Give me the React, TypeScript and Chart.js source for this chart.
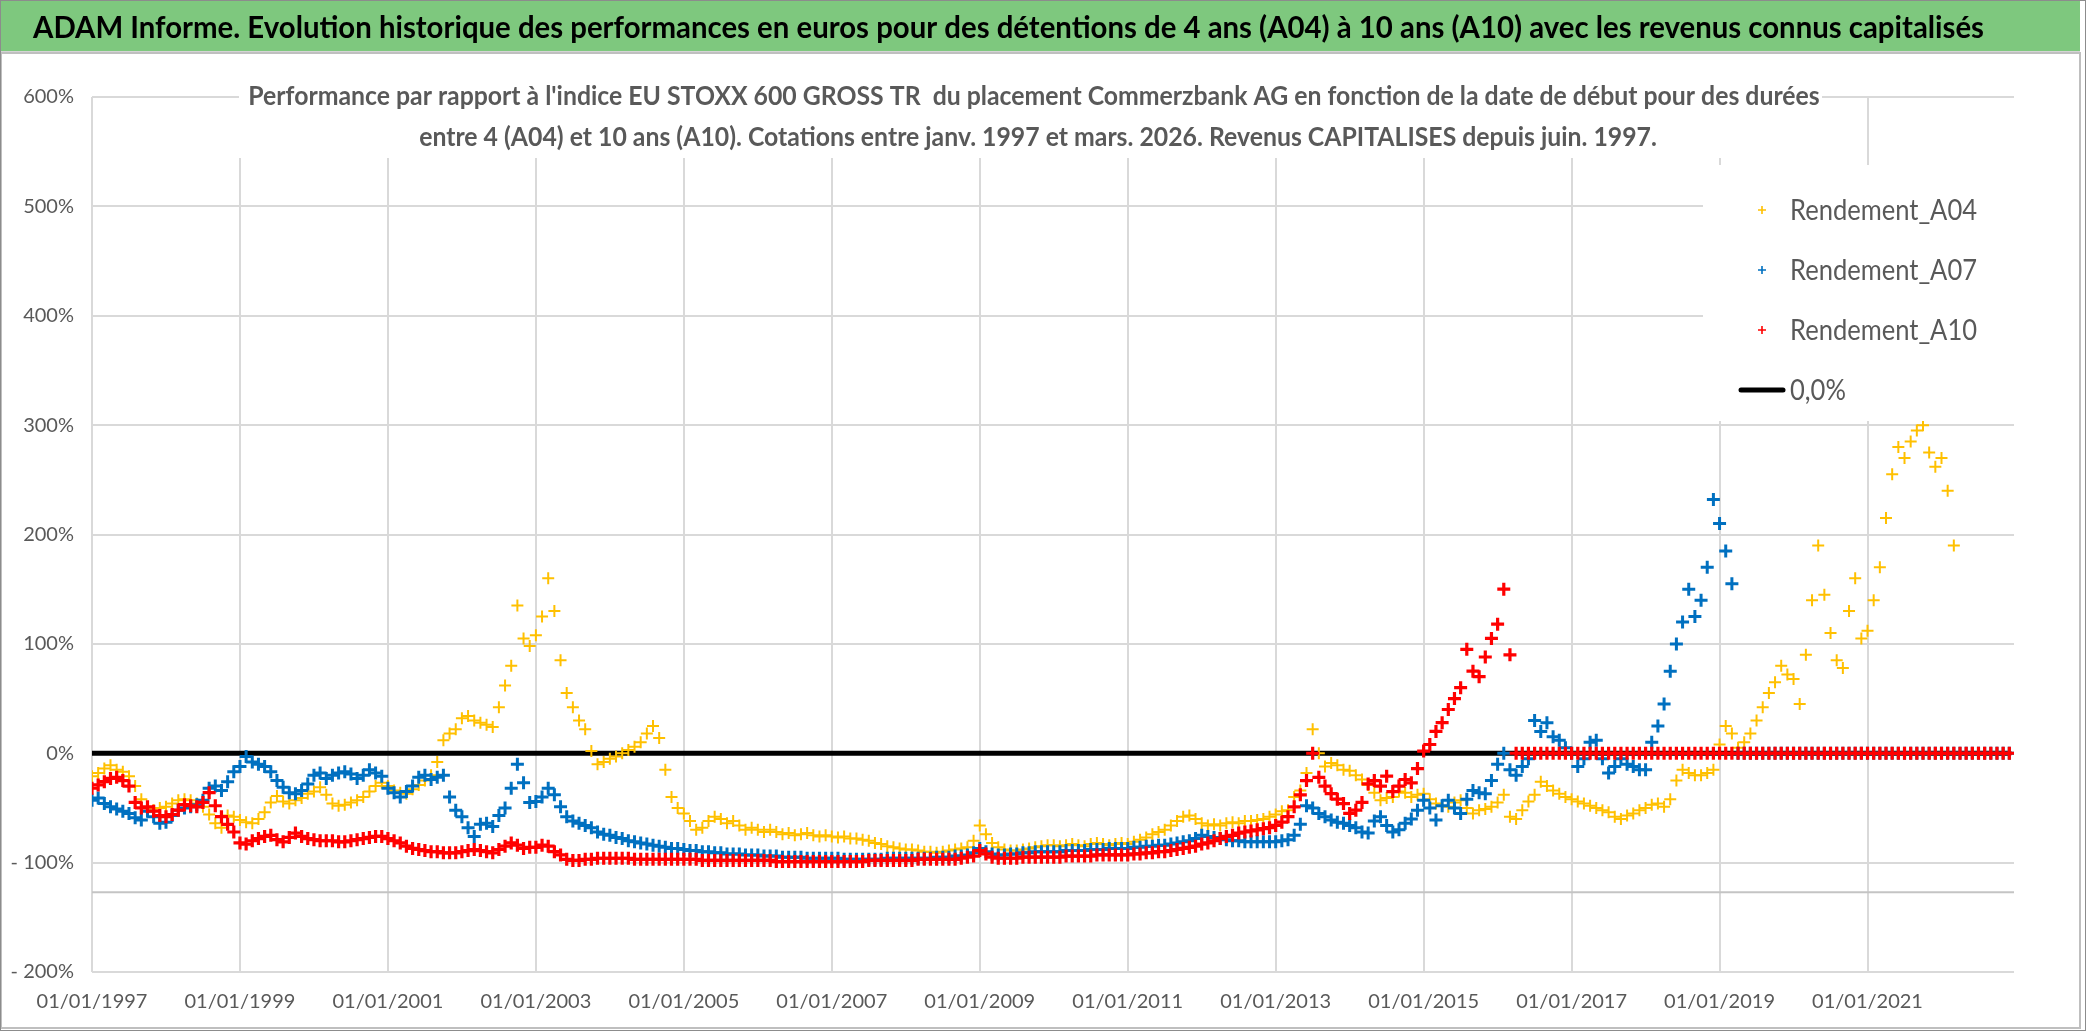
import React, { useEffect, useRef } from "react";
import { Chart, registerables } from "chart.js";

Chart.register(...registerables);

// ---------- texts ----------
const TITLE =
  "ADAM Informe. Evolution historique des performances en euros pour des détentions de 4 ans (A04) à 10 ans (A10) avec les revenus connus capitalisés";
const SUBTITLE_LINES = [
  "Performance par rapport à l'indice EU STOXX 600 GROSS TR  du placement Commerzbank AG en fonction de la date de début pour des durées",
  "entre 4 (A04) et 10 ans (A10). Cotations entre janv. 1997 et mars. 2026. Revenus CAPITALISES depuis juin. 1997.",
];
const SERIES_LABELS = ["Rendement_A04", "Rendement_A07", "Rendement_A10"];
const ZERO_LABEL = "0,0%";
const SERIES_COLORS = ["#FFC000", "#0070C0", "#FF0000"];

// ---------- axes ----------
const FIRST_MONTH = 1997; // first start date: January 1997, one value per month
const X_MIN = 1997;
const X_MAX = 2022.98;
const X_TICKS = [1997, 1999, 2001, 2003, 2005, 2007, 2009, 2011, 2013, 2015, 2017, 2019, 2021];
const Y_MIN = -200;
const Y_MAX = 600;
const Y_STEP = 100;
const AXIS_CROSS = -127;
const ZERO_X = [1997, 2022.92];
const ZERO_Y = [0, 0];

// ---------- series (monthly, in %) ----------
const A04 = [
  -21, -18, -14, -11, -15, -17, -21, -30, -42, -50, -52, -50,
  -49, -46, -43, -42, -43, -46, -49, -56, -64, -68, -57, -58,
  -61, -63, -64, -60, -54, -45, -39, -44, -46, -43, -41, -37,
  -35, -31, -38, -46, -48, -47, -45, -43, -40, -35, -30, -27,
  -30, -34, -36, -37, -33, -29, -25, -20, -8, 12, 18, 22,
  32, 34, 30, 28, 26, 24, 42, 62, 80, 135, 105, 98,
  108, 125, 160, 130, 85, 55, 42, 30, 22, 2, -10, -8,
  -5, -3, 0, 3, 6, 10, 18, 25, 14, -15, -40, -50,
  -55, -62, -70, -68, -62, -58, -60, -64, -62, -66, -70, -68,
  -70, -72, -70, -72, -74, -73, -75, -74, -73, -75, -76, -75,
  -76, -77, -76, -78, -78, -79, -80, -82, -83, -85, -86, -87,
  -88, -88, -89, -90, -90, -91, -90, -89, -88, -87, -86, -80,
  -66, -74, -82, -86, -88, -89, -89, -88, -87, -86, -85, -84,
  -84, -85, -84, -83, -84, -85, -83, -82, -83, -84, -83, -82,
  -83, -81, -79, -77, -74, -72, -70, -66, -62, -58, -57, -60,
  -64, -66, -65, -66, -64, -63, -64, -62, -62, -61, -60, -58,
  -56, -53, -52, -40, -34, -18, 22, 0, -12, -9, -11, -15,
  -16, -20, -24, -29, -36, -43, -41, -40, -35, -36, -40, -38,
  -37, -42, -46, -48, -49, -45, -43, -50, -55, -52, -51, -49,
  -45, -38, -58, -60, -52, -44, -38, -26, -30, -34, -37, -40,
  -42, -44, -46, -48, -50, -52, -54, -58, -60, -57, -55, -52,
  -50, -47, -46, -49, -42, -25, -15, -18, -20, -20, -18, -15,
  8, 25, 18, 5, 10, 18, 30, 42, 55, 65, 80, 72,
  68, 45, 90, 140, 190, 145, 110, 85, 78, 130, 160, 105,
  112, 140, 170, 215, 255, 280, 270, 285, 295, 300, 275, 262,
  270, 240, 190, 0, 0, 0, 0, 0, 0, 0, 0, 0,
];

const A07 = [
  -43, -41, -46, -49, -51, -53, -55, -59, -61, -53, -58, -64,
  -63, -57, -52, -50, -49, -47, -43, -32, -30, -34, -26, -17,
  -12, -3, -8, -10, -12, -17, -25, -31, -36, -37, -34, -28,
  -20, -18, -23, -20, -18, -17, -19, -23, -20, -15, -18, -21,
  -32, -36, -40, -35, -30, -22, -20, -24, -22, -20, -40, -52,
  -58, -68, -76, -65, -64, -67, -57, -50, -32, -10, -27, -45,
  -44, -40, -32, -38, -49, -58, -62, -64, -66, -68, -72, -74,
  -75, -77, -78, -80, -81, -82, -83, -84, -85, -86, -87, -87,
  -88, -89, -89, -90, -90, -91, -91, -92, -92, -92, -93, -93,
  -93, -94, -94, -94, -95, -95, -95, -95, -96, -96, -96, -96,
  -96, -96, -97, -97, -97, -97, -97, -97, -97, -96, -96, -96,
  -96, -96, -96, -96, -96, -95, -95, -95, -94, -94, -93, -91,
  -87, -90, -92, -93, -93, -92, -92, -91, -91, -90, -90, -90,
  -90, -90, -89, -89, -89, -89, -88, -88, -88, -87, -87, -87,
  -87, -86, -86, -85, -85, -84, -84, -83, -82, -81, -80, -78,
  -75, -76, -77, -78, -79, -80, -80, -81, -81, -81, -81, -81,
  -81, -80, -79, -75, -65, -48, -50, -55, -58, -61, -63, -64,
  -66, -68, -72, -73, -62, -58, -66, -72, -70, -64, -60, -52,
  -43, -50, -61, -48, -43, -50, -55, -42, -34, -36, -37, -25,
  -10, 0, -15, -20, -12, -5, 30, 20, 28, 15, 12, 5,
  0, -12, -5, 10, 12, -5, -18, -12, -5, -10, -12, -15,
  -15, 10, 25, 45, 75, 100, 120, 150, 125, 140, 170, 232,
  210, 185, 155, 0, 0, 0, 0, 0, 0, 0, 0, 0,
  0, 0, 0, 0, 0, 0, 0, 0, 0, 0, 0, 0,
  0, 0, 0, 0, 0, 0, 0, 0, 0, 0, 0, 0,
  0, 0, 0, 0, 0, 0, 0, 0, 0, 0, 0, 0,
];

const A10 = [
  -32, -29, -26, -23, -22, -25, -30, -45, -50, -49, -53, -57,
  -58, -56, -52, -47, -48, -49, -45, -36, -48, -58, -65, -72,
  -82, -83, -80, -78, -76, -75, -79, -81, -77, -73, -76, -78,
  -79, -80, -80, -80, -81, -81, -80, -79, -78, -77, -76, -76,
  -78, -80, -82, -85, -87, -88, -89, -90, -90, -91, -91, -91,
  -90, -89, -88, -89, -90, -91, -88, -85, -82, -84, -87, -86,
  -86, -84, -85, -90, -93, -97, -98, -98, -97, -97, -96, -96,
  -96, -96, -96, -96, -97, -97, -97, -97, -97, -97, -97, -97,
  -97, -97, -97, -98, -98, -98, -98, -98, -98, -98, -98, -98,
  -98, -98, -98, -99, -99, -99, -99, -99, -99, -99, -99, -99,
  -99, -99, -99, -99, -99, -99, -98, -98, -98, -98, -98, -98,
  -98, -98, -97, -97, -97, -97, -97, -97, -97, -96, -95, -94,
  -89, -92, -95, -96, -96, -96, -96, -95, -95, -95, -95, -95,
  -95, -95, -94, -94, -94, -94, -94, -93, -93, -93, -93, -93,
  -93, -92, -92, -91, -91, -90, -90, -89, -88, -87, -86, -85,
  -83, -82, -80, -78, -76, -75, -73, -72, -71, -70, -69, -68,
  -66, -63, -58, -49, -38, -25, 0, -22, -30, -37, -42, -46,
  -55, -52, -45, -28, -25, -30, -21, -35, -30, -24, -27, -14,
  2, 8, 20, 28, 40, 50, 60, 95, 75, 70, 88, 105,
  118, 150, 90, 0, 0, 0, 0, 0, 0, 0, 0, 0,
  0, 0, 0, 0, 0, 0, 0, 0, 0, 0, 0, 0,
  0, 0, 0, 0, 0, 0, 0, 0, 0, 0, 0, 0,
  0, 0, 0, 0, 0, 0, 0, 0, 0, 0, 0, 0,
  0, 0, 0, 0, 0, 0, 0, 0, 0, 0, 0, 0,
  0, 0, 0, 0, 0, 0, 0, 0, 0, 0, 0, 0,
  0, 0, 0, 0, 0, 0, 0, 0, 0, 0, 0, 0,
];

// ---------- layout ----------
const PAGE_W = 2086;
const PAGE_H = 1031;
const AREA = { left: 92, top: 97, right: 2014, bottom: 972 };
const FAMILY = "Lato, 'Liberation Sans', sans-serif";
const TEXT_GREY = "#595959";
const GRID = "#d9d9d9";

// draw text horizontally compressed (Calibri-like narrow look)
function drawText(
  ctx: CanvasRenderingContext2D,
  text: string,
  x: number,
  y: number,
  sx: number,
  align: CanvasTextAlign
) {
  ctx.save();
  ctx.translate(x, y);
  ctx.scale(sx, 1);
  ctx.textAlign = align;
  ctx.textBaseline = "middle";
  ctx.fillText(text, 0, 0);
  ctx.restore();
}

export default function App() {
  const ref = useRef<HTMLCanvasElement>(null);

  useEffect(() => {
    document.body.style.margin = "0";
    const canvas = ref.current;
    if (!canvas) return;

    const mctx = document.createElement("canvas").getContext("2d")!;
    const ratio = (text: string, font: string, target: number) => {
      mctx.font = font;
      return target / mctx.measureText(text).width;
    };
    const TITLE_FONT = `bold 31px ${FAMILY}`;
    const SUB_FONT = `bold 26px ${FAMILY}`;
    const LEGEND_FONT = `29px ${FAMILY}`;
    const titleSx = ratio(TITLE, TITLE_FONT, 1951);
    const subSx0 = ratio(SUBTITLE_LINES[0], SUB_FONT, 1571);
    const subSx1 = ratio(SUBTITLE_LINES[1], SUB_FONT, 1238);
    const subSx = (subSx0 + subSx1) / 2;
    const legendSx = ratio("Rendement_A10", LEGEND_FONT, 187);

    const toPoints = (vals: number[]) => vals.map((v, i) => ({ x: FIRST_MONTH + i / 12, y: v }));

    const pagePlugin = {
      id: "page",
      beforeDraw(chart: any) {
        const ctx = chart.ctx as CanvasRenderingContext2D;
        ctx.save();
        ctx.fillStyle = "#ffffff";
        ctx.fillRect(0, 0, PAGE_W, PAGE_H);
        ctx.fillStyle = "#7ec87e";
        ctx.fillRect(0, 0, 2080, 51);
        ctx.fillStyle = "#d4d4d4";
        ctx.fillRect(0, 51, 2080, 2);
        ctx.fillStyle = "#000000";
        ctx.font = TITLE_FONT;
        drawText(ctx, TITLE, 33, 28, titleSx, "left");
        ctx.strokeStyle = "#bfbfbf";
        ctx.lineWidth = 2;
        ctx.strokeRect(1, 53, 2079, 975);
        ctx.strokeStyle = "#8c8c8c";
        ctx.lineWidth = 1;
        ctx.strokeRect(0.5, 0.5, PAGE_W - 1, PAGE_H - 1);
        ctx.restore();
      },
      beforeDatasetsDraw(chart: any) {
        const ctx = chart.ctx as CanvasRenderingContext2D;
        const { chartArea, scales } = chart;
        const y = scales.y.getPixelForValue(AXIS_CROSS);
        ctx.save();
        ctx.strokeStyle = "#c4c4c4";
        ctx.lineWidth = 2;
        ctx.beginPath();
        ctx.moveTo(chartArea.left, y);
        ctx.lineTo(chartArea.right, y);
        ctx.stroke();
        ctx.restore();
      },
      afterDatasetsDraw(chart: any) {
        const ctx = chart.ctx as CanvasRenderingContext2D;
        ctx.save();
        // subtitle box
        ctx.fillStyle = "#ffffff";
        ctx.fillRect(239, 68, 1583, 90);
        ctx.fillStyle = TEXT_GREY;
        ctx.font = SUB_FONT;
        drawText(ctx, SUBTITLE_LINES[0], 1034, 97, subSx, "center");
        drawText(ctx, SUBTITLE_LINES[1], 1038, 138, subSx, "center");

        // legend box
        ctx.fillStyle = "#ffffff";
        ctx.fillRect(1703, 165, 312, 256);
        const rows = [210, 270, 330, 390];
        ctx.font = LEGEND_FONT;
        chart.data.datasets.forEach((ds: any, i: number) => {
          const y = rows[i];
          if (ds.type === "line") {
            ctx.strokeStyle = ds.borderColor;
            ctx.lineWidth = 5;
            ctx.lineCap = "round";
            ctx.beginPath();
            ctx.moveTo(1741, y);
            ctx.lineTo(1783, y);
            ctx.stroke();
          } else {
            ctx.strokeStyle = ds.pointBorderColor;
            ctx.lineWidth = 1.6;
            ctx.lineCap = "butt";
            ctx.beginPath();
            ctx.moveTo(1758, y);
            ctx.lineTo(1766, y);
            ctx.moveTo(1762, y - 4);
            ctx.lineTo(1762, y + 4);
            ctx.stroke();
          }
          ctx.fillStyle = TEXT_GREY;
          drawText(ctx, ds.label, 1790, y + 1, legendSx, "left");
        });
        ctx.restore();
      },
    };

    const scatterDs = (
      label: string,
      vals: number[],
      color: string,
      radius: number,
      width: number,
      order: number
    ) => ({
      type: "scatter" as const,
      label,
      data: toPoints(vals),
      pointStyle: "cross" as const,
      pointRadius: radius,
      pointHoverRadius: radius,
      pointBorderWidth: width,
      pointBorderColor: color,
      pointBackgroundColor: color,
      borderColor: color,
      backgroundColor: color,
      showLine: false,
      order,
    });

    const chart = new Chart(canvas, {
      type: "scatter",
      data: {
        datasets: [
          scatterDs(SERIES_LABELS[0], A04, SERIES_COLORS[0], 6, 2, 3),
          scatterDs(SERIES_LABELS[1], A07, SERIES_COLORS[1], 6.5, 3, 2),
          scatterDs(SERIES_LABELS[2], A10, SERIES_COLORS[2], 6.5, 3.2, 1),
          {
            type: "line" as const,
            label: ZERO_LABEL,
            data: ZERO_X.map((x, i) => ({ x, y: ZERO_Y[i] })),
            borderColor: "#000000",
            backgroundColor: "#000000",
            borderWidth: 5,
            borderCapStyle: "round" as const,
            pointRadius: 0,
            order: 4,
          },
        ] as any,
      },
      options: {
        responsive: false,
        animation: false,
        devicePixelRatio: 1,
        events: [],
        layout: { padding: { left: 0, top: AREA.top, right: PAGE_W - AREA.right, bottom: 0 } },
        plugins: { legend: { display: false }, tooltip: { enabled: false }, title: { display: false } },
        scales: {
          x: {
            type: "linear",
            min: X_MIN,
            max: X_MAX,
            afterBuildTicks: (s: any) => {
              s.ticks = X_TICKS.map((v) => ({ value: v }));
            },
            afterFit: (s: any) => {
              s.height = PAGE_H - AREA.bottom;
            },
            grid: { color: GRID, lineWidth: 2, drawTicks: false },
            border: { display: false },
            ticks: {
              autoSkip: false,
              maxRotation: 0,
              minRotation: 0,
              padding: 18,
              color: TEXT_GREY,
              font: { family: FAMILY, size: 20 },
              callback: (v: any) => `01/01/${v}`,
            },
          },
          y: {
            type: "linear",
            min: Y_MIN,
            max: Y_MAX,
            afterFit: (s: any) => {
              s.width = AREA.left;
            },
            grid: { color: GRID, lineWidth: 2, drawTicks: false },
            border: { display: false },
            ticks: {
              stepSize: Y_STEP,
              padding: 18,
              color: TEXT_GREY,
              font: { family: FAMILY, size: 20 },
              callback: (v: any) => (Number(v) < 0 ? `- ${Math.abs(Number(v))}%` : `${v}%`),
            },
          },
        },
      } as any,
      plugins: [pagePlugin],
    });

    return () => chart.destroy();
  }, []);

  return (
    <div style={{ width: PAGE_W, height: PAGE_H, position: "relative", background: "#fff" }}>
      <canvas ref={ref} width={PAGE_W} height={PAGE_H} style={{ display: "block", width: PAGE_W, height: PAGE_H }} />
    </div>
  );
}
